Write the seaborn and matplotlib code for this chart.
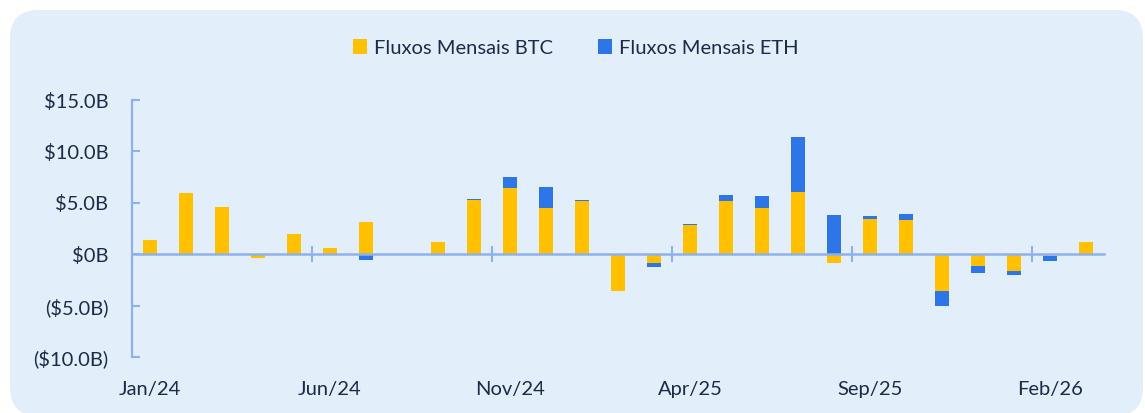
import matplotlib
matplotlib.use("Agg")
import matplotlib.pyplot as plt
import seaborn as sns
import numpy as np
import pandas as pd
from matplotlib.patches import FancyBboxPatch, Patch
from matplotlib.ticker import FixedLocator, FuncFormatter

# ---- data ----
months = ["Jan/24", "Feb/24", "Mar/24", "Apr/24", "May/24", "Jun/24", "Jul/24",
          "Aug/24", "Sep/24", "Oct/24", "Nov/24", "Dec/24", "Jan/25", "Feb/25",
          "Mar/25", "Apr/25", "May/25", "Jun/25", "Jul/25", "Aug/25", "Sep/25",
          "Oct/25", "Nov/25", "Dec/25", "Jan/26", "Feb/26", "Mar/26"]
btc = [1.4, 6.0, 4.6, -0.35, 2.0, 0.6, 3.1, -0.05, 1.2, 5.3, 6.45, 4.5, 5.2, -3.6,
       -0.8, 2.9, 5.15, 4.55, 6.05, -0.8, 3.45, 3.35, -3.55, -1.15, -1.65, -0.2, 1.25]
eth = [0.0, 0.0, 0.0, 0.0, 0.0, 0.0, -0.5, -0.05, 0.0, 0.05, 1.05, 2.05, 0.1, 0.0,
       -0.4, 0.1, 0.6, 1.15, 5.4, 3.8, 0.3, 0.6, -1.45, -0.65, -0.4, -0.4, 0.0]
labelled_months = ["Jan/24", "Jun/24", "Nov/24", "Apr/25", "Sep/25", "Feb/26"]
y_ticks = [-10, -5, 0, 5, 10, 15]
series_names = ["Fluxos Mensais BTC", "Fluxos Mensais ETH"]

# ---- style ----
BG = "#E3EEFB"
YEL = "#FFC000"
BLU = "#2E75E8"
AXC = "#8DB1EE"
TXT = "#1D2A48"
FS = 14.5

sns.set_theme(style="white")
plt.rcParams["font.family"] = ["Lato", "DejaVu Sans"]

df = pd.DataFrame({"month": months, "btc": btc, "eth": eth})
# ETH segment stacks on BTC when same sign, otherwise starts at zero
same = np.sign(df["btc"]) == np.sign(df["eth"])
df["eth_end"] = np.where(same, df["btc"] + df["eth"], df["eth"])

W, H = 1145, 413
fig = plt.figure(figsize=(W / 100, H / 100), dpi=100, facecolor="white")
bg = FancyBboxPatch((10 / W, 1 - 416 / H), (1143 - 10) / W, (416 - 10) / H,
                    boxstyle="round,pad=0,rounding_size=0.025",
                    transform=fig.transFigure, facecolor=BG, edgecolor="none",
                    mutation_aspect=W / H, zorder=-10)
fig.patches.append(bg)

ax = fig.add_axes([132 / W, 1 - 357.3 / H, (1104 - 132) / W, (357.3 - 100) / H])
ax.set_facecolor("none")
ax.set_zorder(1)

sns.barplot(data=df, x="month", y="eth_end", color=BLU, saturation=1, width=0.4,
            ax=ax, order=months, zorder=2, linewidth=0)
sns.barplot(data=df, x="month", y="btc", color=YEL, saturation=1, width=0.4,
            ax=ax, order=months, zorder=3, linewidth=0)

ax.set_xlim(-0.5, len(months) - 0.5)
ax.set_ylim(min(y_ticks), max(y_ticks))
ax.set_xlabel("")
ax.set_ylabel("")

for s in ["top", "right"]:
    ax.spines[s].set_visible(False)
ax.spines["left"].set_color(AXC)
ax.spines["left"].set_linewidth(1.6)
ax.spines["bottom"].set_position(("data", 0))
ax.spines["bottom"].set_color(AXC)
ax.spines["bottom"].set_linewidth(1.8)
ax.spines["bottom"].set_zorder(4)

def yfmt(v, pos):
    if v == 0:
        return "$0B"
    if v < 0:
        return f"(${abs(v):.1f}B)"
    return f"${v:.1f}B"

ax.yaxis.set_major_locator(FixedLocator(y_ticks))
ax.yaxis.set_major_formatter(FuncFormatter(yfmt))
ax.tick_params(axis="y", direction="in", length=6, width=1.5, color=AXC,
               labelsize=FS, labelcolor=TXT, pad=17, left=True)

# category boundary ticks on the zero line
idx = [months.index(m) for m in labelled_months]
ax.set_xticks([i - 0.5 for i in idx[1:]], minor=True)
ax.set_xticks([])
ax.tick_params(axis="x", which="minor", direction="inout", length=11, width=1.5,
               color=AXC, bottom=True, labelbottom=False)

sec = ax.secondary_xaxis("bottom")
sec.set_xticks(idx)
sec.set_xticklabels(labelled_months)
sec.tick_params(axis="x", length=0, labelsize=FS, labelcolor=TXT, pad=17)
sec.spines["bottom"].set_visible(False)

handles = [Patch(facecolor=YEL, edgecolor="none"), Patch(facecolor=BLU, edgecolor="none")]
leg = fig.legend(handles, series_names, loc="center", bbox_to_anchor=(0.503, 1 - 48 / H),
                 ncol=2, frameon=False, fontsize=FS, handlelength=0.7, handleheight=0.7,
                 handletextpad=0.35, columnspacing=2.2)
for t in leg.get_texts():
    t.set_color(TXT)

fig.savefig("out.png", dpi=100, facecolor="white")
